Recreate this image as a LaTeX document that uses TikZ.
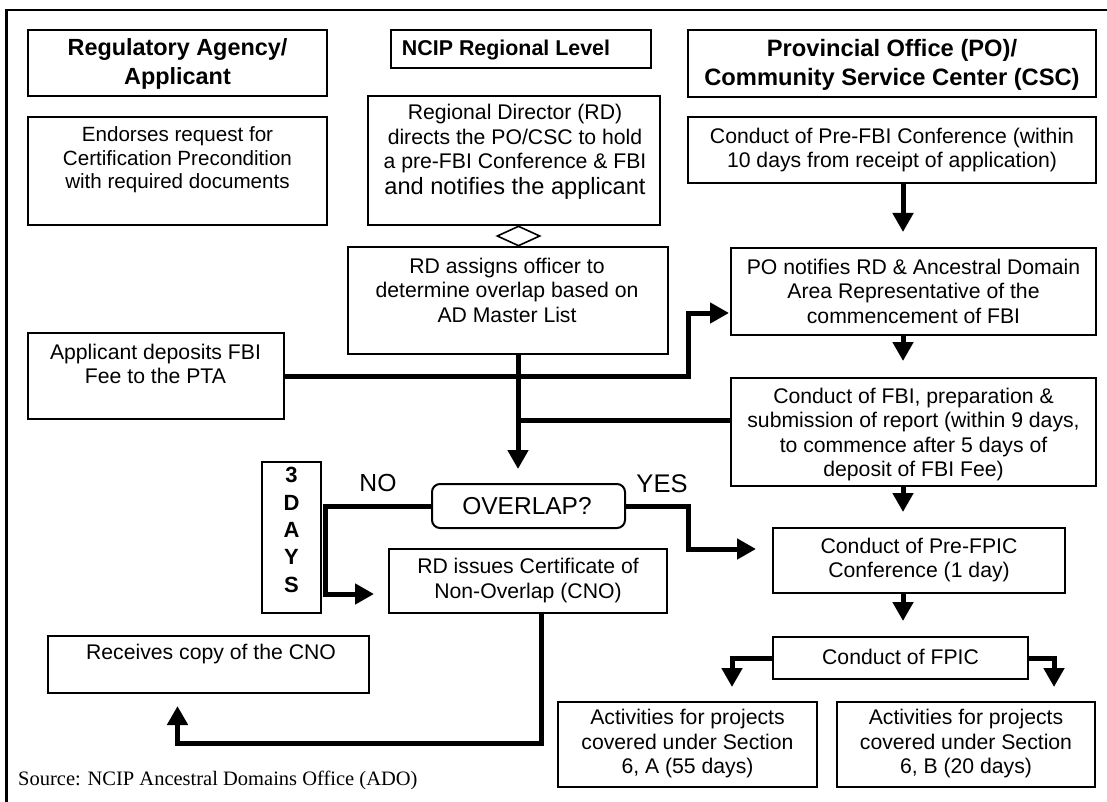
\documentclass[tikz,border=0pt]{standalone}
\usepackage{fontspec}
\setmainfont{Liberation Sans}
\newfontfamily\srcfont{Liberation Serif}
\usetikzlibrary{arrows.meta,shapes.geometric}
\begin{document}
\begin{tikzpicture}[x=1pt,y=-1pt,
  box/.style={draw, line width=2pt, inner sep=0pt},
  txt/.style={align=center, inner sep=0pt, font=\fontsize{21.2}{24.5}\selectfont},
  hdr/.style={align=center, inner sep=0pt, font=\bfseries\fontsize{23.4}{29}\selectfont},
  ln/.style={line width=5pt},
  arr/.style={line width=5pt, -{Triangle[width=20pt,length=19pt]}},
  frame/.style={line width=2.5pt}]
\useasboundingbox (0,0) rectangle (1107,802);
\draw[frame] (6.5,802) -- (6.5,10) -- (1107,10);

% headers
\node[box, minimum width=299pt, minimum height=66pt] (reg) at (177.5,63) {};
\node[hdr] (regt) at (177.5,64) {Regulatory Agency/\\Applicant};
\node[box, minimum width=260pt, minimum height=38pt] (ncip) at (521,49) {};
\node[hdr, font=\bfseries\fontsize{21.4}{25}\selectfont] (ncipt) at (506,50) {NCIP Regional Level};
\node[box, minimum width=408pt, minimum height=67pt] (prov) at (892,63.5) {};
\node[hdr, font=\bfseries\fontsize{23.7}{29}\selectfont] (provt) at (892,65) {Provincial Office (PO)/\\Community Service Center (CSC)};

% left column
\node[box, minimum width=299pt, minimum height=108pt] (endo) at (177.5,171) {};
\node[txt, font=\fontsize{20.6}{23.5}\selectfont] (endot) at (177.5,160) {Endorses request for\\Certification Precondition\\with required documents};
\node[box, minimum width=256pt, minimum height=86pt] (appl) at (156,376) {};
\node[txt] (applt) at (155.5,364) {Applicant deposits FBI\\Fee to the PTA};
\node[box, minimum width=321pt, minimum height=57pt] (recv) at (208.5,664.5) {};
\node[txt] (recvt) at (211,654) {Receives copy of the CNO};
\node[box, minimum width=59pt, minimum height=151pt] (days) at (291.5,537.5) {};
\node[align=center, inner sep=0pt, font=\bfseries\fontsize{22}{27.3}\selectfont] (dayst) at (291.5,530) {3\\D\\A\\Y\\S};

% middle column
\node[box, minimum width=292pt, minimum height=129pt] (rd) at (514,160.5) {};
\node[txt] (rdt) at (515,152) {Regional Director (RD)\\directs the PO/CSC to hold\\a pre-FBI Conference \& FBI\\[1pt]{\fontsize{23.6}{27}\selectfont and notifies the applicant}};
\node[draw, line width=1.6pt, diamond, inner sep=0pt, minimum width=43pt, minimum height=20pt] (dia) at (518.5,236) {};
\node[box, minimum width=320pt, minimum height=107pt] (assign) at (508,300.5) {};
\node[txt] (assignt) at (507,290) {RD assigns officer to\\determine overlap based on\\AD Master List};
\node[box, rounded corners=8pt, minimum width=193pt, minimum height=44pt] (overlap) at (528.5,506) {};
\node[inner sep=0pt, font=\fontsize{24.5}{28}\selectfont] (overlapt) at (527,506) {OVERLAP?};
\node[box, minimum width=278pt, minimum height=64pt] (rdi) at (528,581) {};
\node[txt] (rdit) at (528,580.5) {RD issues Certificate of\\Non-Overlap (CNO)};
\node[inner sep=0pt, font=\fontsize{24.7}{28}\selectfont] (no) at (378,483) {NO};
\node[inner sep=0pt, font=\fontsize{25.5}{28}\selectfont] (yes) at (662,484) {YES};

% right column
\node[box, minimum width=408pt, minimum height=66pt] (prefbi) at (892,150) {};
\node[txt] (prefbit) at (892,150) {Conduct of Pre-FBI Conference (within\\10 days from receipt of application)};
\node[box, minimum width=365pt, minimum height=87pt] (po) at (913.5,291.5) {};
\node[txt] (pot) at (913.5,291) {PO notifies RD \& Ancestral Domain\\Area Representative of the\\commencement of FBI};
\node[box, minimum width=365pt, minimum height=108pt] (fbi) at (913.5,432) {};
\node[txt] (fbit) at (913.5,434.5) {Conduct of FBI, preparation \&\\submission of report (within 9 days,\\to commence after 5 days of\\deposit of FBI Fee)};
\node[box, minimum width=292pt, minimum height=65pt] (prefpic) at (919,560.5) {};
\node[txt] (prefpict) at (919,560) {Conduct of Pre-FPIC\\Conference (1 day)};
\node[box, minimum width=255pt, minimum height=42pt] (fpic) at (900.5,658) {};
\node[txt] (fpict) at (900.5,657) {Conduct of FPIC};
\node[box, minimum width=259pt, minimum height=85pt] (actA) at (687.5,744.5) {};
\node[txt] (actAt) at (687.5,744) {Activities for projects\\covered under Section\\6, A (55 days)};
\node[box, minimum width=258pt, minimum height=85pt] (actB) at (966,744.5) {};
\node[txt] (actBt) at (966,744) {Activities for projects\\covered under Section\\6, B (20 days)};

\node[anchor=west, inner sep=0pt, font=\srcfont\fontsize{20.5}{24}\selectfont] (src) at (18,780) {Source: NCIP Ancestral Domains Office (ADO)};

% helper coordinates
\coordinate (cx) at (903,0);
\coordinate (xa) at (732,0);
\coordinate (xb) at (1054,0);
\coordinate (k1) at (688,313);
\coordinate (vx) at (518,0);
\coordinate (j) at (518,420);
\coordinate (n1) at (325,594);
\coordinate (y1) at (688,549);
\coordinate (cc) at (541,743);
\coordinate (b1) at (177.5,743);

% connectors
\draw[arr, shorten >=15pt] (prefbi.south -| cx) -- (po.north -| cx);
\draw[arr, shorten >=16pt] (po.south -| cx) -- (fbi.north -| cx);
\draw[arr, shorten >=15pt] (fbi.south -| cx) -- (prefpic.north -| cx);
\draw[arr, shorten >=15pt] (prefpic.south -| cx) -- (fpic.north -| cx);
\draw[arr, shorten >=14pt] (fpic.west) -| (actA.north -| xa);
\draw[arr, shorten >=14pt] (fpic.east) -| (actB.north -| xb);
\draw[arr, shorten >=1pt] (appl.east) -| (k1) -- (po.west |- k1);
\draw[arr, shorten >=14pt] (assign.south -| vx) -- (overlap.north -| vx);
\draw[ln] (fbi.west |- j) -- (j);
\draw[arr, shorten >=14pt] (overlap.west) -| (n1) -- (rdi.west |- n1);
\draw[arr, shorten >=16pt] (overlap.east) -| (y1) -- (prefpic.west |- y1);
\draw[arr, shorten >=12pt] (rdi.south -| cc) |- (b1) -- (recv.south -| b1);
\end{tikzpicture}
\end{document}
